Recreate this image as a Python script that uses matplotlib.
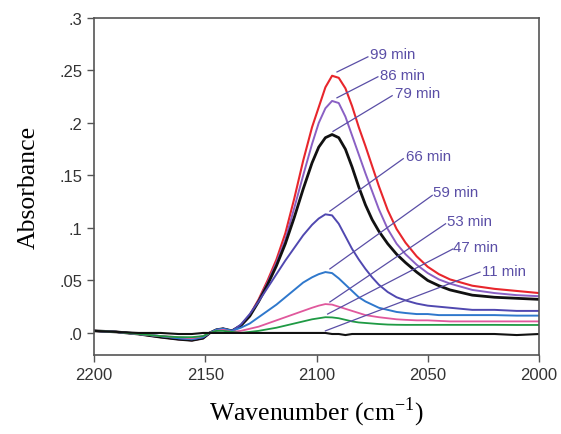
import matplotlib
matplotlib.use("Agg")
import matplotlib.pyplot as plt

plt.rcParams['mathtext.fontset'] = 'custom'
plt.rcParams['mathtext.rm'] = 'Liberation Serif'

# wavenumber grid (cm-1) shared by all spectra
wn = [2200, 2190, 2180, 2170, 2162, 2156, 2151, 2148, 2145, 2142, 2138, 2134, 2130, 2126,
      2122, 2118, 2114, 2110, 2106, 2102, 2099, 2096, 2093, 2090, 2087, 2084, 2081, 2078,
      2075, 2072, 2068, 2064, 2060, 2055, 2050, 2045, 2040, 2030, 2020, 2010, 2000]

a99 = [0.002, 0.001, -0.001, -0.004, -0.006, -0.007, -0.005, 0.000, 0.003, 0.004, 0.002, 0.007, 0.017, 0.032,
       0.050, 0.070, 0.095, 0.128, 0.164, 0.196, 0.215, 0.234, 0.245, 0.243, 0.233, 0.216, 0.196, 0.178,
       0.159, 0.140, 0.117, 0.099, 0.086, 0.073, 0.063, 0.056, 0.051, 0.045, 0.042, 0.040, 0.038]
a86 = [0.002, 0.001, -0.001, -0.004, -0.006, -0.007, -0.005, 0.000, 0.003, 0.004, 0.002, 0.007, 0.017, 0.031,
       0.048, 0.067, 0.089, 0.119, 0.150, 0.180, 0.200, 0.214, 0.221, 0.219, 0.206, 0.188, 0.170, 0.152,
       0.135, 0.118, 0.099, 0.085, 0.075, 0.065, 0.057, 0.051, 0.047, 0.041, 0.038, 0.036, 0.035]
a79 = [0.002, 0.001, -0.001, -0.004, -0.006, -0.007, -0.005, 0.000, 0.003, 0.004, 0.002, 0.007, 0.016, 0.030,
       0.046, 0.064, 0.085, 0.110, 0.137, 0.162, 0.177, 0.186, 0.189, 0.186, 0.175, 0.158, 0.139, 0.122,
       0.108, 0.097, 0.085, 0.075, 0.067, 0.058, 0.050, 0.045, 0.041, 0.036, 0.034, 0.033, 0.032]
a66 = [0.002, 0.001, -0.001, -0.003, -0.005, -0.006, -0.004, 0.000, 0.003, 0.004, 0.002, 0.008, 0.018, 0.030,
       0.043, 0.056, 0.069, 0.081, 0.093, 0.103, 0.109, 0.113, 0.112, 0.104, 0.092, 0.080, 0.070, 0.061,
       0.053, 0.046, 0.039, 0.034, 0.031, 0.028, 0.026, 0.025, 0.024, 0.022, 0.022, 0.021, 0.021]
a59 = [0.002, 0.001, -0.001, -0.003, -0.005, -0.006, -0.004, 0.000, 0.003, 0.004, 0.002, 0.005, 0.009, 0.015,
       0.021, 0.027, 0.034, 0.041, 0.048, 0.053, 0.056, 0.058, 0.057, 0.052, 0.046, 0.040, 0.034, 0.030,
       0.027, 0.024, 0.022, 0.020, 0.019, 0.018, 0.018, 0.017, 0.017, 0.017, 0.017, 0.0165, 0.0165]
a53 = [0.002, 0.001, -0.001, -0.003, -0.004, -0.005, -0.003, 0.000, 0.002, 0.003, 0.001, 0.002, 0.004, 0.006,
       0.009, 0.012, 0.015, 0.018, 0.021, 0.024, 0.026, 0.0275, 0.027, 0.025, 0.023, 0.021, 0.019, 0.017,
       0.016, 0.015, 0.014, 0.013, 0.0125, 0.012, 0.012, 0.0115, 0.011, 0.011, 0.011, 0.011, 0.011]
a47 = [0.002, 0.001, -0.001, -0.003, -0.004, -0.004, -0.003, 0.000, 0.002, 0.002, 0.001, 0.000, 0.001, 0.002,
       0.0035, 0.005, 0.007, 0.009, 0.011, 0.013, 0.014, 0.015, 0.0148, 0.014, 0.0125, 0.011, 0.010, 0.0095,
       0.009, 0.0085, 0.008, 0.0078, 0.0077, 0.0077, 0.0077, 0.0077, 0.0077, 0.0077, 0.0077, 0.0076, 0.0076]
a11 = [0.002, 0.001, 0.000, 0.000, -0.001, -0.001, 0.000, 0.000, 0.000, 0.000, 0.000, 0.000, 0.000, 0.000,
       0.000, 0.000, 0.000, 0.000, 0.000, 0.000, 0.000, 0.000, -0.001, -0.001, -0.002, -0.001, -0.001, -0.001,
       -0.001, -0.001, -0.001, -0.001, -0.001, -0.001, -0.001, -0.001, -0.001, -0.001, -0.001, -0.002, -0.001]

labels = ["99 min", "86 min", "79 min", "66 min", "59 min", "53 min", "47 min", "11 min"]
colors = ["#e8262c", "#8a60c4", "#111111", "#5048b0", "#2f78cc", "#e0589c", "#1f9a44", "#111111"]
widths = [1.5, 1.4, 2.0, 1.4, 1.4, 1.3, 1.3, 1.5]
series = [a99, a86, a79, a66, a59, a53, a47, a11]

# leader lines: curve point -> label point (data coords)
line_from = [(2090.8, 0.2486), (2090.8, 0.224), (2092.6, 0.192), (2094.0, 0.116),
             (2094.0, 0.061), (2094.0, 0.0295), (2095.0, 0.018), (2096.0, 0.002)]
line_to = [(2076.9, 0.263), (2072.4, 0.244), (2066.0, 0.226), (2061.0, 0.166),
           (2048.0, 0.131), (2042.0, 0.104), (2038.7, 0.080), (2026.5, 0.058)]
text_pos = [(2076.0, 0.266), (2071.5, 0.246), (2064.7, 0.229), (2059.8, 0.169),
            (2047.6, 0.134), (2041.3, 0.107), (2038.6, 0.082), (2025.6, 0.059)]

fig = plt.figure(figsize=(5.61, 4.35), dpi=100)
ax = fig.add_axes([94/561, 1 - 356/435, 445/561, 337/435])

for y, c, w in zip(series, colors, widths):
    ax.plot(wn, y, color=c, lw=w)

label_col = "#5a4ea6"
for lab, p0, p1, tp in zip(labels, line_from, line_to, text_pos):
    ax.plot([p0[0], p1[0]], [p0[1], p1[1]], color=label_col, lw=0.9)
    ax.text(tp[0], tp[1], lab, color=label_col, fontsize=10.8, family="Liberation Sans",
            ha="left", va="center")

ax.set_xlim(2200, 2000)
ax.set_ylim(-0.021, 0.3)
ax.set_xticks([2200, 2150, 2100, 2050, 2000])
ax.set_yticks([0, 0.05, 0.1, 0.15, 0.2, 0.25, 0.3])
ax.set_yticklabels([".0", ".05", ".1", ".15", ".2", ".25", ".3"])
for lbl in ax.get_xticklabels() + ax.get_yticklabels():
    lbl.set_family("Liberation Sans")
    lbl.set_fontsize(12)
    lbl.set_color("#333333")
ax.tick_params(direction="out", length=5, width=1, color="#555555")
for s in ax.spines.values():
    s.set_color("#555555")
    s.set_linewidth(1.2)

ax.set_xlabel("Wavenumber (cm$^{\\mathrm{-1}}$)", family="Liberation Serif", fontsize=18.5, labelpad=9)
ax.set_ylabel("Absorbance", family="Liberation Serif", fontsize=18.5, labelpad=14)

fig.savefig("out.png", dpi=100)
